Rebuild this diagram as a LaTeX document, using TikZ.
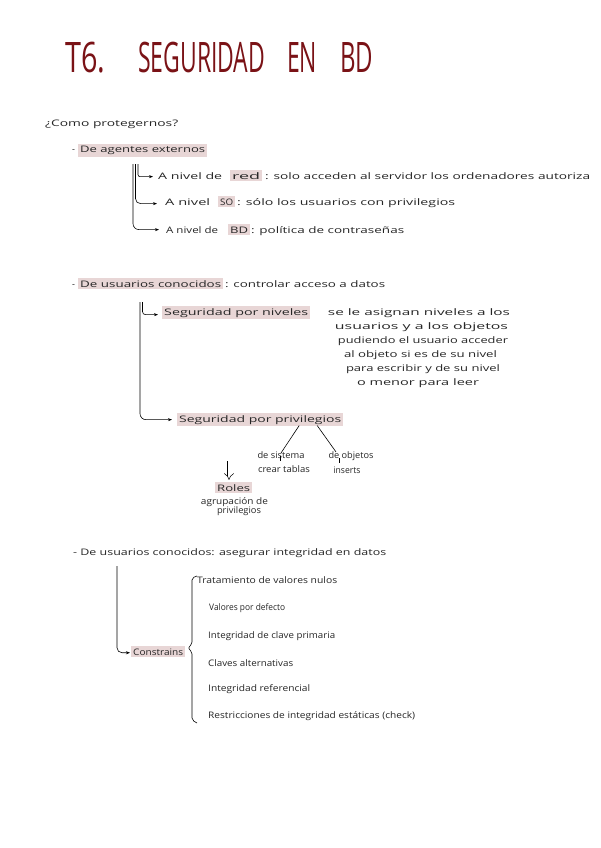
\documentclass[tikz,border=0pt]{standalone}
\usepackage{fontspec}
\setmainfont{Open Sans}
\usepackage{graphicx}
\usetikzlibrary{arrows.meta}
\definecolor{ttl}{RGB}{122,18,22}
\definecolor{hlc}{RGB}{232,214,214}
\newcommand\fw[2]{\resizebox{#1pt}{\height}{#2}}
\begin{document}
\begin{tikzpicture}[x=1pt,y=-1pt,
  txt/.style={inner sep=0pt, anchor=base west, font=\fontsize{9}{10}\selectfont, text=black!85},
  ctxt/.style={txt, anchor=base},
  hl/.style={txt, fill=hlc, inner xsep=2pt, inner ysep=2.2pt},
  ttlstyle/.style={inner sep=0pt, anchor=base west, font=\fontsize{42}{42}\selectfont, text=ttl},
  con/.style={line width=0.6pt, -{Stealth[length=4pt,width=3pt]}},
  ln/.style={line width=0.6pt}
]
\useasboundingbox[fill=white] (0,0) rectangle (600,848);

% title
\node[ttlstyle] (t6) at (65,73) {\fw{40}{T6.}};
\node[ttlstyle] (tseg) at (138,73) {\fw{127}{SEGURIDAD}};
\node[ttlstyle] (ten) at (287,73) {\fw{30}{EN}};
\node[ttlstyle] (tbd) at (340,73) {\fw{33}{BD}};

% section 1
\node[txt] (q) at (45,126) {\fw{133}{¿Como protegernos?}};
\node[txt] (d1) at (72,153) {-};
\node[hl] (ext) at (78,153) {\fw{125}{De agentes externos}};

\node[txt] (l1a) at (158,179) {\fw{64}{A nivel de}};
\node[hl] (l1b) at (230,179) {\fw{28}{red}};
\node[txt] (l1c) at (265,179) {\fw{325}{: solo acceden al servidor los ordenadores autoriza}};

\node[txt] (l2a) at (165,205) {\fw{45}{A nivel}};
\node[hl] (l2b) at (218,205) {\fw{13}{SO}};
\node[txt] (l2c) at (237,205) {\fw{218}{: sólo los usuarios con privilegios}};

\node[txt] (l3a) at (166,233) {\fw{52}{A nivel de}};
\node[hl] (l3b) at (228,233) {\fw{18}{BD}};
\node[txt] (l3c) at (251,233) {\fw{153}{: política de contraseñas}};

\coordinate (b1a) at (133,164);
\coordinate (b1b) at (135.5,164);
\coordinate (b1c) at (138,164);
\draw[con, rounded corners=6pt] (b1a) |- ([xshift=-7pt]l3a.west);
\draw[con, rounded corners=5pt] (b1b) |- ([xshift=-8pt,yshift=-2pt]l2a.west);
\draw[con, rounded corners=2pt] (b1c) |- ([xshift=-5pt,yshift=-1pt]l1a.west);

% section 2
\node[txt] (d2) at (72,287) {-};
\node[hl] (uc) at (78,287) {\fw{141}{De usuarios conocidos}};
\node[txt] (ucc) at (225,287) {\fw{160}{: controlar acceso a datos}};

\node[hl] (sn) at (162,315) {\fw{144}{Seguridad por niveles}};
\node[ctxt] (p1) at (419,315) {\fw{182}{se le asignan niveles a los}};
\node[ctxt] (p2) at (421.5,329) {\fw{173}{usuarios y a los objetos}};
\node[ctxt] (p3) at (423,343) {\fw{170}{pudiendo el usuario acceder}};
\node[ctxt] (p4) at (420.5,357) {\fw{153}{al objeto si es de su nivel}};
\node[ctxt] (p5) at (423,371) {\fw{154}{para escribir y de su nivel}};
\node[ctxt] (p6) at (418,385) {\fw{122}{o menor para leer}};

\node[hl] (sp) at (177,422) {\fw{162}{Seguridad por privilegios}};

\coordinate (b2a) at (140,302);
\coordinate (b2b) at (142.5,302);
\draw[con, rounded corners=6pt] (b2a) |- ([xshift=-5pt]sp.west);
\draw[con, rounded corners=3pt] (b2b) |- ([xshift=-4pt,yshift=-2pt]sn.west);

\node[ctxt] (ds) at (281,458) {\fw{47}{de sistema}};
\node[ctxt] (ct) at (284,472) {\fw{52}{crear tablas}};
\node[ctxt] (dob) at (351,458) {\fw{45}{de objetos}};
\node[ctxt] (ins) at (347,473) {\fw{27}{inserts}};

\draw[ln] ([xshift=39pt,yshift=1pt]sp.south) -- ([yshift=-2pt]ds.north);
\draw[ln] ([xshift=57pt,yshift=1pt]sp.south) -- ([xshift=-15pt,yshift=-1pt]dob.north);
\draw[ln] ([xshift=-1pt,yshift=2pt]ds.south) -- ++(0,5);
\draw[ln] ([xshift=-12pt,yshift=2pt]dob.south) -- ++(0,5);

\node[hl] (roles) at (215,491) {\fw{33}{Roles}};
\node[ctxt] (ag1) at (234.5,504) {\fw{67}{agrupación de}};
\node[ctxt] (ag2) at (239,513) {\fw{44}{privilegios}};
\coordinate (rarr) at (229,461);
\draw[double, double distance=3pt, line width=0.5pt, -{Implies}, shorten >=2pt] (rarr) -- (rarr |- roles.north);

% section 3
\node[txt] (s3) at (73,555) {\fw{313}{- De usuarios conocidos: asegurar integridad en datos}};
\node[hl] (cons) at (131,655) {\fw{50}{Constrains}};
\coordinate (b4) at (117,566);
\draw[con, rounded corners=5pt] (b4) |- ([xshift=-1pt,yshift=-1pt]cons.west);

\draw[ln, rounded corners=2pt] (197,576) -- (192,578) -- (192,644) -- (188,648) -- (192,652) -- (192,720) -- (197,723);

\node[txt] (i1) at (197,583) {\fw{140}{Tratamiento de valores nulos}};
\node[txt] (i2) at (209,610) {\fw{76}{Valores por defecto}};
\node[txt] (i3) at (208,638) {\fw{127}{Integridad de clave primaria}};
\node[txt] (i4) at (208,666) {\fw{85}{Claves alternativas}};
\node[txt] (i5) at (208,691) {\fw{102}{Integridad referencial}};
\node[txt] (i6) at (208,718) {\fw{207}{Restricciones de integridad estáticas (check)}};
\end{tikzpicture}
\end{document}
